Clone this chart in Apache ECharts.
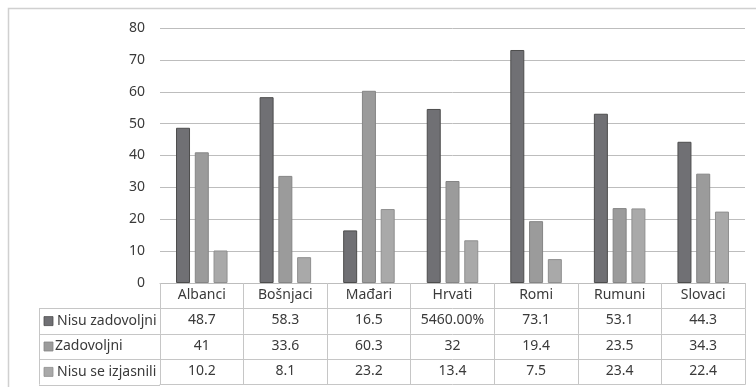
<!DOCTYPE html>
<html>
<head>
<meta charset="utf-8">
<script src="https://cdn.jsdelivr.net/npm/echarts@6/dist/echarts.min.js"></script>
<style>
  html, body { margin: 0; padding: 0; background: #fff; }
  #chart { width: 756px; height: 387px; }
</style>
</head>
<body>
<div id="chart"></div>
<script>
// Categories (national minorities)
const categories = ['Albanci', 'Bošnjaci', 'Mađari', 'Hrvati', 'Romi', 'Rumuni', 'Slovaci'];

// Series names and values
const seriesNames = ['Nisu zadovoljni', 'Zadovoljni', 'Nisu se izjasnili'];
const nisuZadovoljni = [48.7, 58.3, 16.5, 54.6, 73.1, 53.1, 44.3];
const zadovoljni = [41, 33.6, 60.3, 32, 19.4, 23.5, 34.3];
const nisuSeIzjasnili = [10.2, 8.1, 23.2, 13.4, 7.5, 23.4, 22.4];
const seriesValues = [nisuZadovoljni, zadovoljni, nisuSeIzjasnili];

// Table cells shown in percent format: [series index, category index]
const percentCells = [[0, 3]];

// Y axis ticks
const yMin = 0, yMax = 80, yStep = 10;

const colors = ['#707074', '#9b9b9b', '#a9a9a9'];
const borders = ['#4d4d4d', '#858585', '#8f8f8f'];

const FONT = 'Noto Sans';
const FONT_SIZE = 14;
const TEXT = '#3a3a3a';
const TABLE_LINE = '#c6c6c6';

const gridLeft = 160, gridTop = 28, gridRight = 11, gridBottom = 104;
const rowH = 25.4;
const plotBottom = 387 - gridBottom;
const legendLeft = 39;

function cellText(s, c) {
  const v = seriesValues[s][c];
  if (percentCells.some(p => p[0] === s && p[1] === c)) {
    return (v * 100).toFixed(2) + '%';
  }
  return String(v);
}

// Table rows are additional category x axes stacked under the plot
const xAxes = [];
const rows = [categories].concat(seriesValues.map((vals, s) => vals.map((_, c) => cellText(s, c))));
rows.forEach((rowData, i) => {
  xAxes.push({
    type: 'category',
    data: rowData,
    position: 'bottom',
    offset: i * rowH,
    boundaryGap: true,
    axisLine: { show: true, lineStyle: { color: i === 0 ? '#bdbdbd' : TABLE_LINE, width: 1 } },
    axisTick: { show: true, interval: 0, length: rowH, lineStyle: { color: TABLE_LINE } },
    axisLabel: { interval: 0, margin: 5, color: TEXT, fontFamily: FONT, fontSize: FONT_SIZE },
    splitLine: { show: false }
  });
});
// bottom closing line of the table
xAxes.push({
  type: 'category',
  data: categories,
  position: 'bottom',
  offset: rows.length * rowH,
  axisLine: { show: true, lineStyle: { color: TABLE_LINE } },
  axisTick: { show: false },
  axisLabel: { show: false }
});

const chart = echarts.init(document.getElementById('chart'), null, { renderer: 'canvas' });

// Legend column of the table
const graphics = [
  { type: 'rect', shape: { x: 8.5, y: 8.5, width: 800, height: 400 }, style: { fill: 'none', stroke: '#d0d0d0', lineWidth: 1.5 }, silent: true }
];
seriesNames.forEach((name, s) => {
  const top = plotBottom + rowH * (s + 1);
  graphics.push({
    type: 'line',
    shape: { x1: legendLeft, y1: Math.round(top) + 0.5, x2: gridLeft, y2: Math.round(top) + 0.5 },
    style: { stroke: TABLE_LINE, lineWidth: 1 }
  });
  graphics.push({
    type: 'rect',
    shape: { x: legendLeft + 5, y: top + rowH / 2 - 4.5, width: 9, height: 9 },
    style: { fill: colors[s], stroke: borders[s], lineWidth: 0.8 }
  });
  graphics.push({
    type: 'text',
    style: {
      x: legendLeft + (s === 1 ? 16 : 18), y: top + rowH / 2,
      text: name, fill: TEXT, font: FONT_SIZE + 'px "' + FONT + '"', verticalAlign: 'middle'
    }
  });
});
graphics.push({
  type: 'line',
  shape: { x1: legendLeft, y1: Math.round(plotBottom + rowH * 4) + 0.5, x2: gridLeft, y2: Math.round(plotBottom + rowH * 4) + 0.5 },
  style: { stroke: TABLE_LINE, lineWidth: 1 }
});
graphics.push({
  type: 'line',
  shape: { x1: legendLeft + 0.5, y1: plotBottom + rowH, x2: legendLeft + 0.5, y2: plotBottom + rowH * 4 },
  style: { stroke: TABLE_LINE, lineWidth: 1 }
});

chart.setOption({
  animation: false,
  backgroundColor: '#ffffff',
  textStyle: { fontFamily: FONT },
  grid: { left: gridLeft, right: gridRight, top: gridTop, bottom: gridBottom, containLabel: false },
  xAxis: xAxes,
  yAxis: {
    type: 'value',
    min: yMin, max: yMax, interval: yStep,
    axisLine: { show: false },
    axisTick: { show: false },
    axisLabel: { margin: 15, color: TEXT, fontFamily: FONT, fontSize: FONT_SIZE },
    splitLine: { lineStyle: { color: '#bdbdbd', width: 1 } }
  },
  graphic: graphics,
  series: seriesValues.map((vals, s) => ({
    name: seriesNames[s],
    type: 'bar',
    xAxisIndex: 0,
    data: vals,
    barWidth: 14,
    barGap: '34%',
    itemStyle: { color: colors[s], borderColor: borders[s], borderWidth: 1 }
  }))
});
</script>
</body>
</html>
